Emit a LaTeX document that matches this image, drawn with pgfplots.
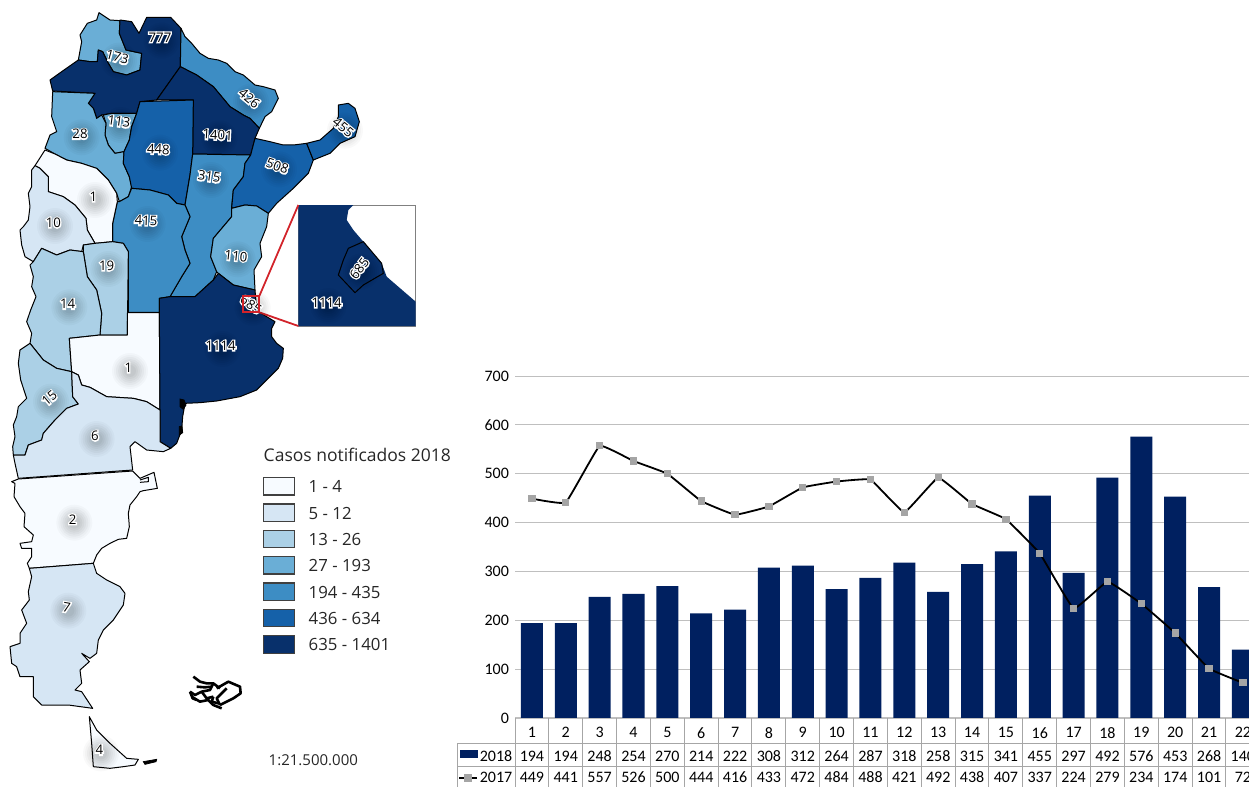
\documentclass[border=0pt]{standalone}
\usepackage{fontspec}
\usepackage{pgfplots}
\usepackage{pgfplotstable}
\pgfplotsset{compat=1.18}
\setmainfont{Open Sans}
\newfontfamily\calibri{Carlito}
\newfontfamily\halofont[FakeBold=20]{Open Sans}

\definecolor{c1}{HTML}{F7FBFF}
\definecolor{c2}{HTML}{D6E6F4}
\definecolor{c3}{HTML}{ABD0E6}
\definecolor{c4}{HTML}{6AAED6}
\definecolor{c5}{HTML}{3D8DC4}
\definecolor{c6}{HTML}{1561A9}
\definecolor{c7}{HTML}{08306B}
\definecolor{barblue}{HTML}{002060}
\definecolor{gridgray}{HTML}{BFBFBF}
\definecolor{cellgray}{HTML}{A6A6A6}
\definecolor{markgray}{HTML}{A5A5A5}
\definecolor{zoomred}{HTML}{D2232A}

% week, 2018, 2017
\pgfplotstableread{
w a b
1 194 449
2 194 441
3 248 557
4 254 526
5 270 500
6 214 444
7 222 416
8 308 433
9 312 472
10 264 484
11 287 488
12 318 421
13 258 492
14 315 438
15 341 407
16 455 337
17 297 224
18 492 279
19 576 234
20 453 174
21 268 101
22 140 72
}\weeks

% map label: x, y, angle, text (shadow, white halo, black text)
\newcommand{\maplabel}[4]{%
  \fill[black,opacity=.025] (axis cs:#1+5,#2+10) circle[radius=9pt];
  \fill[black,opacity=.025] (axis cs:#1+5,#2+10) circle[radius=8pt];
  \fill[black,opacity=.03] (axis cs:#1+5,#2+10) circle[radius=7pt];
  \fill[black,opacity=.03] (axis cs:#1+5,#2+10) circle[radius=6pt];
  \fill[black,opacity=.03] (axis cs:#1+5,#2+10) circle[radius=5pt];
  \fill[black,opacity=.035] (axis cs:#1+5,#2+10) circle[radius=4pt];
  \fill[black,opacity=.035] (axis cs:#1+5,#2+10) circle[radius=3pt];
  \node[lab,white,rotate=#3] at (axis cs:#1,#2) {\halofont #4};
  \node[lab,black,rotate=#3] at (axis cs:#1,#2) {#4};
}
\tikzset{
  lab/.style={font=\fontsize{6.6}{7}\selectfont,inner sep=0pt,anchor=center},
  leg/.style={font=\fontsize{8.4}{10}\selectfont,inner sep=0pt,anchor=west,text=black!85},
  prov/.style={draw=black,line width=.5pt,line join=round},
  malv/.style={draw=black,line width=1.3pt,line join=round},
}

\begin{document}
\begin{tikzpicture}
\clip (0,0) rectangle (624.5pt,393.5pt);
% map in 3x pixel coordinates of the picture
\begin{axis}[at={(0,0)},anchor=south west,scale only axis,width=624.5pt,height=393.5pt,
  xmin=0,xmax=3747,ymin=0,ymax=2361,y dir=reverse,hide axis,clip=false,no markers]
\addplot[prov,fill=c4] coordinates {(297,38)(330,60)(360,62)(358,100)(378,150)(425,160)(420,210)(380,225)(340,215)(325,190)(308,155)(295,150)(292,185)(270,185)(235,180)(245,125)(240,105)(262,70)(290,60)} --cycle;
\addplot[prov,fill=c7] coordinates {(360,60)(395,65)(417,100)(440,52)(512,52)(543,85)(541,200)(470,300)(420,305)(410,340)(335,340)(305,345)(290,355)(280,325)(265,310)(285,280)(158,273)(150,240)(185,215)(235,180)(270,185)(292,185)(295,150)(308,155)(325,190)(340,215)(380,225)(420,210)(425,160)(378,150)(358,100)} --cycle;
\addplot[prov,fill=c5] coordinates {(543,85)(555,110)(575,130)(600,160)(625,175)(655,180)(680,190)(705,215)(730,225)(765,255)(790,260)(825,270)(835,295)(815,335)(795,350)(778,385)(750,355)(730,345)(690,320)(665,290)(640,260)(590,225)(541,200)} --cycle;
\addplot[prov,fill=c7] coordinates {(541,200)(590,225)(640,260)(665,290)(690,320)(730,345)(750,355)(778,385)(765,415)(752,465)(578,462)(580,300)(470,300)} --cycle;
\addplot[prov,fill=c4] coordinates {(310,345)(335,340)(410,340)(395,380)(388,420)(372,455)(345,460)(325,435)(315,405)(318,370)} --cycle;
\addplot[prov,fill=c4] coordinates {(158,275)(285,280)(265,310)(280,325)(290,355)(305,345)(318,370)(315,405)(325,435)(345,460)(372,455)(370,490)(388,530)(395,560)(385,590)(358,605)(350,580)(325,540)(290,505)(245,490)(200,480)(165,462)(135,445)(150,405)(170,395)(155,350)} --cycle;
\addplot[prov,fill=c6] coordinates {(420,305)(580,300)(578,462)(570,525)(555,615)(530,610)(505,585)(450,570)(395,565)(388,530)(370,490)(372,455)(388,420)(395,380)(410,340)} --cycle;
\addplot[prov,fill=c5] coordinates {(578,462)(752,465)(735,490)(730,530)(700,570)(695,620)(695,650)(640,715)(632,770)(650,815)(640,840)(585,890)(510,890)(545,830)(570,790)(555,750)(545,710)(570,650)(555,615)(570,525)} --cycle;
\addplot[prov,fill=c6] coordinates {(765,415)(810,425)(850,435)(880,435)(920,430)(940,480)(925,520)(880,565)(830,610)(805,640)(770,618)(735,615)(695,625)(700,570)(730,530)(735,490)(752,465)} --cycle;
\addplot[prov,fill=c6] coordinates {(920,430)(960,420)(1000,385)(1015,350)(1015,315)(1045,310)(1065,325)(1078,365)(1065,410)(1020,430)(990,460)(940,480)} --cycle;
\addplot[prov,fill=c5] coordinates {(395,565)(450,570)(505,585)(530,610)(555,615)(570,650)(545,710)(555,750)(570,790)(545,830)(510,890)(478,895)(478,937)(385,937)(385,755)(370,730)(338,725)(338,670)(352,605)(358,605)(385,590)} --cycle;
\addplot[prov,fill=c4] coordinates {(695,650)(695,625)(735,615)(770,618)(805,640)(800,680)(780,730)(785,770)(762,810)(765,870)(700,855)(655,820)(650,815)(632,770)(640,715)} --cycle;
\addplot[prov,fill=c1] coordinates {(105,497)(135,450)(165,462)(200,480)(245,490)(290,505)(325,540)(350,580)(352,605)(338,670)(338,725)(285,730)(262,690)(258,655)(225,615)(190,590)(145,575)(145,530)(120,505)} --cycle;
\addplot[prov,fill=c2] coordinates {(105,497)(120,505)(145,530)(145,575)(190,590)(225,615)(258,655)(262,690)(285,730)(250,735)(245,755)(210,750)(170,765)(125,745)(100,785)(75,770)(65,735)(60,690)(70,680)(85,660)(90,620)(85,580)(95,560)(95,510)} --cycle;
\addplot[prov,fill=c3] coordinates {(250,735)(285,730)(338,725)(370,730)(385,755)(382,1005)(300,1005)(305,940)(290,870)(262,830)(250,755)} --cycle;
\addplot[prov,fill=c3] coordinates {(125,745)(170,765)(210,750)(250,755)(262,830)(290,870)(305,940)(300,1005)(208,1015)(215,1115)(170,1105)(130,1080)(90,1030)(95,1000)(80,965)(92,930)(108,890)(95,860)(100,830)(90,795)(100,785)} --cycle;
\addplot[prov,fill=c1] coordinates {(208,1015)(300,1005)(382,1005)(382,938)(478,938)(480,1230)(440,1205)(400,1195)(320,1190)(270,1162)(245,1155)(235,1125)(215,1115)} --cycle;
\addplot[prov,fill=c7] coordinates {(478,895)(510,890)(585,890)(640,840)(655,820)(700,855)(765,870)(768,905)(775,935)(825,965)(815,985)(815,1010)(830,1030)(850,1045)(848,1075)(835,1105)(800,1140)(770,1170)(720,1190)(650,1203)(600,1208)(555,1210)(548,1250)(545,1290)(530,1330)(512,1345)(480,1325)(480,1230)(478,938)} --cycle;
\addplot[prov,fill=c3] coordinates {(90,1030)(130,1080)(170,1105)(215,1115)(218,1190)(235,1212)(200,1225)(165,1260)(130,1300)(125,1320)(85,1335)(75,1365)(40,1365)(38,1340)(45,1310)(40,1275)(50,1250)(55,1220)(80,1195)(62,1140)(55,1090)(60,1050)} --cycle;
\addplot[prov,fill=c2] coordinates {(215,1115)(235,1125)(245,1155)(270,1162)(320,1190)(400,1195)(440,1205)(480,1230)(480,1325)(512,1345)(490,1355)(440,1350)(405,1325)(390,1340)(398,1410)(55,1435)(45,1390)(40,1365)(75,1365)(85,1335)(125,1320)(130,1300)(165,1260)(200,1225)(235,1212)(218,1190)} --cycle;
\addplot[prov,fill=c1] coordinates {(55,1437)(398,1413)(410,1425)(420,1435)(462,1417)(472,1465)(430,1472)(420,1475)(410,1490)(390,1515)(385,1540)(388,1580)(380,1615)(355,1618)(330,1630)(305,1645)(290,1665)(280,1690)(88,1705)(82,1690)(95,1670)(95,1645)(65,1645)(60,1630)(95,1625)(100,1605)(72,1580)(75,1540)(60,1520)(42,1490)(45,1450)(35,1445)} --cycle;
\addplot[prov] coordinates {(420,1440)(445,1432)(445,1445)(420,1447)};
\addplot[prov,fill=c2] coordinates {(88,1705)(280,1690)(290,1720)(320,1740)(360,1760)(375,1780)(370,1815)(340,1860)(310,1890)(295,1920)(290,1960)(270,1975)(245,1960)(268,1985)(240,2010)(245,2050)(225,2070)(245,2075)(278,2125)(205,2115)(125,2115)(100,2090)(100,2030)(60,2030)(50,2000)(35,1990)(30,1940)(60,1930)(60,1900)(80,1870)(65,1830)(88,1800)(85,1775)(95,1730)} --cycle;
\addplot[prov,fill=c1] coordinates {(268,2150)(290,2190)(330,2230)(380,2275)(415,2278)(405,2295)(370,2300)(330,2305)(280,2300)(275,2230)} --cycle;
\addplot[fill=black,draw=black] coordinates {(430,2285)(470,2278)(468,2285)(435,2293)} --cycle;
% islands off Bahia Blanca
\addplot[fill=black,draw=black] coordinates {(540,1197)(552,1200)(558,1215)(550,1228)(540,1220)} --cycle;
\addplot[fill=black,draw=black] coordinates {(538,1280)(546,1278)(548,1298)(538,1305)} --cycle;
% Malvinas
\addplot[malv] coordinates {(580,2030)(600,2045)(620,2050)(640,2050)(660,2065)};
\addplot[malv] coordinates {(570,2075)(585,2085)(605,2075)(630,2070)(640,2050)};
\addplot[malv] coordinates {(575,2090)(600,2105)(625,2100)(640,2115)(665,2125)};
\addplot[malv] coordinates {(650,2065)(685,2045)(720,2060)(722,2080)(700,2095)(680,2105)(660,2115)};
\addplot[malv] coordinates {(660,2115)(650,2095)(680,2065)};
\addplot[malv] coordinates {(605,2075)(620,2095)(640,2090)};
\addplot[malv] coordinates {(590,2060)(615,2062)(635,2060)};
\addplot[malv] coordinates {(570,2075)(578,2095)(590,2100)};
\addplot[malv] coordinates {(640,2090)(635,2105)(655,2110)};
% inset
\addplot[fill=white,draw=gray,line width=.4pt] coordinates {(895,615)(1247,615)(1247,978)(895,978)} --cycle;
\addplot[fill=c7,draw=none] coordinates {(895,615)(1060,615)(1045,630)(1040,660)(1060,690)(1090,725)(1145,790)(1160,830)(1247,905)(1247,978)(895,978)} --cycle;
\addplot[prov,fill=c7] coordinates {(1045,745)(1090,725)(1145,790)(1150,820)(1090,855)(1065,878)(1015,825)(1030,780)} --cycle;
\addplot[draw=zoomred,line width=.9pt] coordinates {(778,888)(895,615)};
\addplot[draw=zoomred,line width=.9pt] coordinates {(778,937)(895,978)};
% legend swatches
\addplot[draw=black!75,line width=.55pt,fill=c1] coordinates {(790,1433)(883,1433)(883,1485)(790,1485)} --cycle;
\addplot[draw=black!75,line width=.55pt,fill=c2] coordinates {(790,1512)(883,1512)(883,1564)(790,1564)} --cycle;
\addplot[draw=black!75,line width=.55pt,fill=c3] coordinates {(790,1591)(883,1591)(883,1643)(790,1643)} --cycle;
\addplot[draw=black!75,line width=.55pt,fill=c4] coordinates {(790,1670)(883,1670)(883,1722)(790,1722)} --cycle;
\addplot[draw=black!75,line width=.55pt,fill=c5] coordinates {(790,1749)(883,1749)(883,1801)(790,1801)} --cycle;
\addplot[draw=black!75,line width=.55pt,fill=c6] coordinates {(790,1828)(883,1828)(883,1880)(790,1880)} --cycle;
\addplot[draw=black!75,line width=.55pt,fill=c7] coordinates {(790,1907)(883,1907)(883,1960)(790,1960)} --cycle;
\node[leg,font=\fontsize{8.75}{11}\selectfont] at (axis cs:790,1365) {Casos notificados 2018};
\node[leg] at (axis cs:925,1460) {1 - 4};
\node[leg] at (axis cs:925,1540) {5 - 12};
\node[leg] at (axis cs:925,1618) {13 - 26};
\node[leg] at (axis cs:925,1697) {27 - 193};
\node[leg] at (axis cs:925,1776) {194 - 435};
\node[leg] at (axis cs:925,1855) {436 - 634};
\node[leg] at (axis cs:925,1933) {635 - 1401};
\node[leg,font=\fontsize{7.5}{9}\selectfont] at (axis cs:805,2280) {1:21.500.000};
% values on the map
\maplabel{352}{172}{-15}{173}
\maplabel{480}{112}{0}{777}
\maplabel{748}{295}{-40}{426}
\maplabel{357}{365}{-8}{113}
\maplabel{240}{402}{0}{28}
\maplabel{475}{448}{-3}{448}
\maplabel{653}{405}{-3}{1401}
\maplabel{628}{530}{-8}{315}
\maplabel{832}{498}{-20}{508}
\maplabel{1030}{382}{-40}{455}
\maplabel{280}{590}{0}{1}
\maplabel{160}{668}{0}{10}
\maplabel{438}{662}{-2}{415}
\maplabel{708}{768}{-6}{110}
\maplabel{320}{797}{0}{19}
\maplabel{203}{912}{0}{14}
\maplabel{662}{1037}{0}{1114}
\maplabel{385}{1103}{0}{1}
\maplabel{148}{1195}{40}{15}
\maplabel{285}{1307}{0}{6}
\maplabel{218}{1558}{0}{2}
\maplabel{200}{1822}{-10}{7}
\maplabel{298}{2250}{0}{4}
\maplabel{753}{913}{-35}{685}
\maplabel{1078}{805}{52}{685}
\maplabel{980}{908}{0}{1114}
% red frame over the labels
\addplot[draw=zoomred,line width=.9pt] coordinates {(730,888)(778,888)(778,937)(730,937)} --cycle;
\end{axis}

% weekly chart with its data table
\begin{axis}[at={(257.5pt,34.5pt)},anchor=south west,scale only axis,width=367pt,height=171pt,
  xmin=0.5,xmax=22.18,ymin=0,ymax=700,clip=false,
  axis x line=bottom,axis y line=left,axis line style={draw=gridgray,-},
  y axis line style={draw=none},
  ytick={0,100,...,700},ymajorgrids,grid style={draw=gridgray,line width=.5pt},
  major tick length=0pt,xtick={1,...,22},
  tick label style={font=\calibri\fontsize{8}{9}\selectfont},
  /pgf/number format/assume math mode=true,
  xticklabel style={yshift=-1.2pt},yticklabel style={xshift=.5pt}]
\addplot[ybar,bar width=11pt,fill=barblue,draw=none] table[x=w,y=a]{\weeks};
\addplot[black,line width=.9pt,smooth,tension=.15,mark=square*,mark size=1.35pt,
  mark options={fill=markgray,draw=markgray}] table[x=w,y=b]{\weeks};
% table rules
\addplot[draw=cellgray,line width=.5pt] coordinates {(-1.21,-51.2)(22.5,-51.2)};
\addplot[draw=cellgray,line width=.5pt] coordinates {(-1.21,-100.3)(22.5,-100.3)};
\addplot[draw=cellgray,line width=.5pt] coordinates {(-1.21,-51.2)(-1.21,-145)};
\pgfplotsinvokeforeach{0.5,1.5,...,22.5}{
  \addplot[draw=cellgray,line width=.5pt] coordinates {(#1,0)(#1,-145)};
}
% table values
\addplot[draw=none,no markers,point meta=explicit symbolic,nodes near coords={\pgfplotspointmeta},
  nodes near coords align={anchor=center},
  every node near coord/.append style={font=\calibri\fontsize{8}{9}\selectfont,inner sep=0pt}]
  table[x=w,y expr=-77.8,meta=a]{\weeks};
\addplot[draw=none,no markers,point meta=explicit symbolic,nodes near coords={\pgfplotspointmeta},
  nodes near coords align={anchor=center},
  every node near coord/.append style={font=\calibri\fontsize{8}{9}\selectfont,inner sep=0pt}]
  table[x=w,y expr=-120.8,meta=b]{\weeks};
% row headers with their keys
\addplot[fill=barblue,draw=none] coordinates {(-1.125,-65.5)(-.593,-65.5)(-.593,-81.9)(-1.125,-81.9)} --cycle;
\addplot[black,line width=.9pt,mark=square*,mark size=1.35pt,mark options={fill=markgray,draw=markgray},
  mark indices={2}] coordinates {(-1.154,-122.8)(-.888,-122.8)(-.622,-122.8)};
\node[font=\calibri\fontsize{8}{9}\selectfont,inner sep=0pt] at (axis cs:-.06,-77.8) {2018};
\node[font=\calibri\fontsize{8}{9}\selectfont,inner sep=0pt] at (axis cs:-.06,-120.8) {2017};
\end{axis}
\end{tikzpicture}
\end{document}
